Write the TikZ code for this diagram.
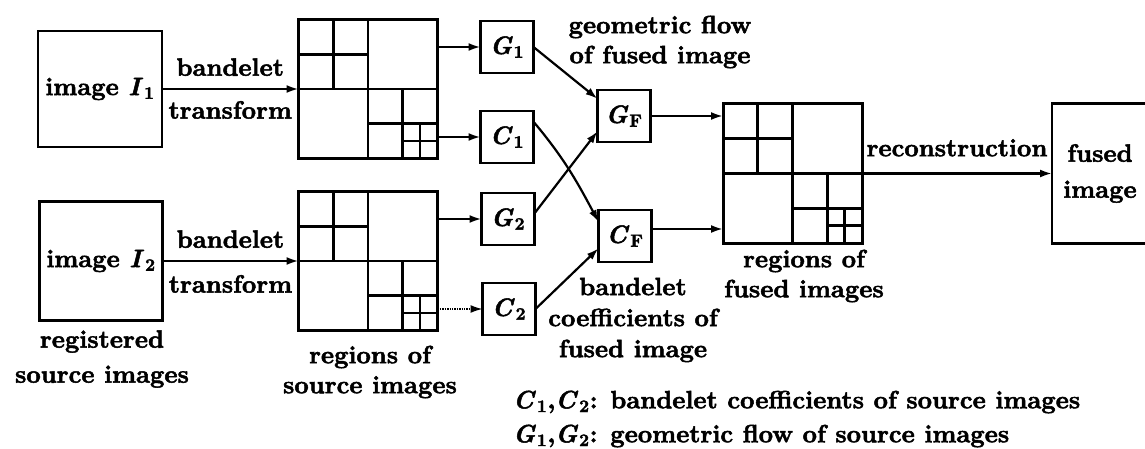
\documentclass[tikz,border=0pt]{standalone}
\usepackage{amsmath, amssymb}
\usepackage[no-math]{fontspec}
\setmainfont{lmroman10-regular.otf}[BoldFont=lmroman10-bold.otf, BoldFeatures={FakeBold=2},
    BoldItalicFont=lmroman10-bolditalic.otf, BoldItalicFeatures={FakeBold=2}]
\usepackage{xcolor}
\usepackage{tikz}
\usetikzlibrary{arrows.meta}
\newcommand{\sym}[2]{\textit{#1}\kern1pt\textsubscript{#2}}

\begin{document}
\begin{tikzpicture}[x=1pt, y=-1pt, >={Latex[length=12pt,width=8pt]}, line width=2.2pt,
    font=\fontsize{25}{30}\selectfont\bfseries,
    every node/.style={inner sep=2pt},
    imgbox/.style={draw, line width=2.8pt, outer sep=0pt, align=center},
    regbox/.style={draw, line width=3pt, outer sep=0pt, minimum width=139pt, minimum height=139pt},
    smallbox/.style={draw, line width=2.8pt, outer sep=0pt, minimum width=53pt, minimum height=52pt},
    grid/.style={line width=2.8pt}]
        \useasboundingbox (0,0) rectangle (1145,449);
        \clip (0,0) rectangle (1145,449);

        % Source images
        \node[imgbox, minimum width=124pt, minimum height=116pt] (img1) at (100,89) {image \sym{I}{1}};
        \node[imgbox, minimum width=123pt, minimum height=119pt] (img2) at (101,261) {image \sym{I}{2}};
        \node[align=center] (regl) at (102,359) {registered\\[5pt]source images};

        % Regions (quadtree)
        \node[regbox] (reg1) at (368,89) {};
        \node[regbox] (reg2) at (368,261) {};
        \node[regbox] (regf) at (792.5,173.5) {};
        \foreach \r in {reg1,reg2,regf} {
            \begin{scope}[shift={(\r.north west)}]
                \draw[grid] (69.5,0) -- (69.5,139);
                \draw[grid] (0,69.5) -- (139,69.5);
                \draw[grid] (34.75,0) -- (34.75,69.5);
                \draw[grid] (0,34.75) -- (69.5,34.75);
                \draw[grid] (104.25,69.5) -- (104.25,139);
                \draw[grid] (69.5,104.25) -- (139,104.25);
                \draw[grid, line width=2.3pt] (121.6,104.25) -- (121.6,139);
                \draw[grid, line width=2.3pt] (104.25,121.6) -- (139,121.6);
            \end{scope}
        }
        \node[align=center] (rsl) at (370,372) {regions of\\source images};
        \node[align=center] (rfl) at (804,276) {regions of\\fused images};

        % Transforms
        \draw[->] (img1) -- (reg1) node[midway, above=10pt] (bt1) {bandelet} node[midway, below=9pt] (tt1) {transform};
        \draw[->] (img2) -- (reg2) node[midway, above=10pt] (bt2) {bandelet} node[midway, below=11pt] (tt2) {transform};

        % Geometric flow and coefficients
        \node[smallbox] (g1) at (507,47) {\sym{G}{1}};
        \node[smallbox] (c1) at (507,137) {\sym{C}{1}};
        \node[smallbox] (g2) at (508,219) {\sym{G}{2}};
        \node[smallbox] (c2) at (509,309) {\sym{C}{2}};
        \draw[->] (g1 -| reg1.east) -- (g1);
        \draw[->] (c1 -| reg1.east) -- (c1);
        \draw[->] (g2 -| reg2.east) -- (g2);
        \draw[->, line width=1.4pt, densely dotted] (c2 -| reg2.east) -- (c2);

        % Fusion
        \node[smallbox] (gf) at (624,116) {\sym{G}{F}};
        \node[smallbox] (cf) at (625,236) {\sym{C}{F}};
        \draw[->] (g1.east) -- (gf.147);
        \draw[->] (c1.30) to[out=-50, in=118] (cf.152);
        \draw[->] (g2.12) -- (gf.210);
        \draw[->] (c2.east) -- (cf.205);
        \node[align=center] (geo) at (660,42) {geometric flow\\of fused image};
        \node[align=center] (coef) at (633,320) {bandelet\\[1pt]coefficients of\\[1pt]fused image};
        \draw[->] (gf.east) -- (gf -| regf.west);
        \draw[->] ([yshift=7pt]cf.east) -- ([yshift=7pt]cf.east -| regf.west);

        % Reconstruction
        \node[imgbox, minimum width=96pt, minimum height=140pt] (fused) at (1100,173.5) {fused\\[6pt]image};
        \draw[->] (regf) -- (fused) node[midway, above=14pt] (rc) {reconstruction};

        % Legend
        \node[align=left, anchor=west] (leg) at (510,419) {\sym{C}{1},\sym{C}{2}: bandelet coefficients of source images\\[4pt]\sym{G}{1},\sym{G}{2}: geometric flow of source images};
\end{tikzpicture}
\end{document}
